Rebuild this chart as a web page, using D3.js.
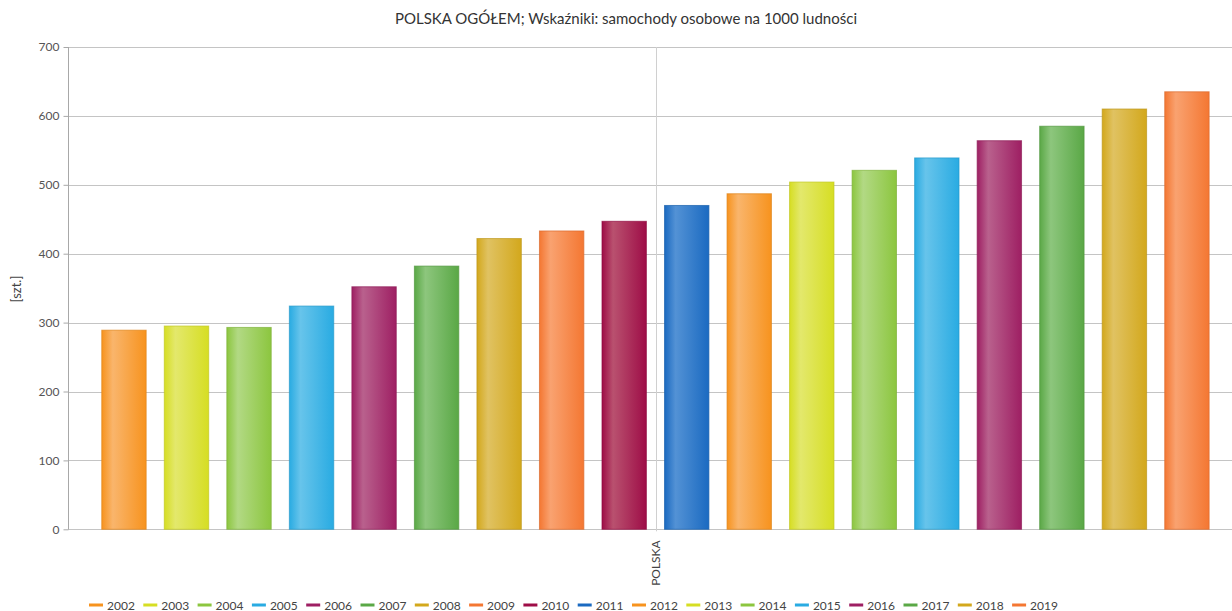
<!DOCTYPE html>
<html>
<head>
<meta charset="utf-8">
<script src="https://cdn.jsdelivr.net/npm/d3@7"></script>
<style>
  body { margin: 0; background: #fff; }
  text { font-family: Lato, "Open Sans", sans-serif; }
</style>
</head>
<body>
<script>
var years = ["2002","2003","2004","2005","2006","2007","2008","2009","2010",
             "2011","2012","2013","2014","2015","2016","2017","2018","2019"];
var values = [289, 295, 293, 324, 352, 382, 422, 433, 447,
              470, 487, 504, 521, 539, 564, 585, 610, 635];
var categories = ["POLSKA"];
var yTicks = [0, 100, 200, 300, 400, 500, 600, 700];
// base / light pairs, cycling every 10 series
var palette = [
  ["#f7931e", "#f9b56c"],
  ["#d6de23", "#e3e86c"],
  ["#8cc63f", "#b2d984"],
  ["#29abe2", "#67c4eb"],
  ["#9e1f63", "#b9618d"],
  ["#5aa846", "#8dc67d"],
  ["#d3a81c", "#e0c262"],
  ["#f47732", "#f9a270"],
  ["#9e0d47", "#b9516f"],
  ["#1b6ac1", "#5392d5"]
];

var w = 1232, h = 611;
var plotLeft = 68, plotTop = 47, plotBottom = 529.3;

var svg = d3.select("body").append("svg")
  .attr("width", w)
  .attr("height", h);

var defs = svg.append("defs");
palette.forEach(function(c, i){
  var g = defs.append("linearGradient")
    .attr("id", "grad" + i)
    .attr("x1", "0%").attr("x2", "100%")
    .attr("y1", "0%").attr("y2", "0%");
  g.append("stop").attr("offset", "0%").attr("stop-color", c[0]);
  g.append("stop").attr("offset", "25%").attr("stop-color", c[1]);
  g.append("stop").attr("offset", "100%").attr("stop-color", c[0]);
});

var y = d3.scaleLinear().domain([0, 700]).range([plotBottom, plotTop]);

var x = d3.scaleBand().domain(categories).range([plotLeft, 1243]);
var xc = x("POLSKA") + x.bandwidth() / 2;

var xi = d3.scaleBand().domain(years)
  .range([92.7, 1218.2])
  .paddingInner(0.274)
  .paddingOuter(0.137);

// grid
svg.append("g").selectAll("line")
  .data(yTicks)
  .enter().append("line")
  .attr("x1", plotLeft).attr("x2", w)
  .attr("y1", function(d){ return Math.round(y(d)) + 0.5; })
  .attr("y2", function(d){ return Math.round(y(d)) + 0.5; })
  .style("stroke", "#c4c4c4")
  .style("stroke-width", 1);

// category divider
svg.append("line")
  .attr("x1", Math.round(xc) + 0.5).attr("x2", Math.round(xc) + 0.5)
  .attr("y1", plotTop).attr("y2", plotBottom + 2)
  .style("stroke", "#d0d0d0");

// y axis
var yAxis = d3.axisLeft(y).tickValues(yTicks).tickSize(5).tickPadding(4);
var ya = svg.append("g")
  .attr("transform", "translate(" + (plotLeft + 0.5) + ",0)")
  .call(yAxis);
ya.select(".domain").style("stroke", "#a8a8a8").attr("d", "M0," + plotTop + "V" + plotBottom);
ya.selectAll(".tick line").style("stroke", "#a8a8a8");
ya.selectAll(".tick text")
  .style("font-family", "Lato, sans-serif")
  .style("font-size", "12px")
  .style("fill", "#555");

// bars
svg.append("g").selectAll("rect")
  .data(values)
  .enter().append("rect")
  .attr("x", function(d, i){ return xi(years[i]) + 0.5; })
  .attr("y", function(d){ return y(d); })
  .attr("width", xi.bandwidth() - 1)
  .attr("height", function(d){ return plotBottom - y(d); })
  .style("fill", function(d, i){ return "url(#grad" + (i % 10) + ")"; })
  .style("stroke", function(d, i){ return d3.color(palette[i % 10][0]).darker(0.3); })
  .style("stroke-opacity", 0.7)
  .style("stroke-width", 1);

// title
svg.append("text")
  .attr("x", 626).attr("y", 24)
  .attr("text-anchor", "middle")
  .style("font-size", "15px")
  .style("fill", "#333")
  .text("POLSKA OGÓŁEM; Wskaźniki: samochody osobowe na 1000 ludności");

// y label
svg.append("text")
  .attr("transform", "translate(21," + 289 + ") rotate(-90)")
  .attr("text-anchor", "middle")
  .style("font-size", "13px")
  .style("fill", "#444")
  .text("[szt.]");

// category label
svg.append("text")
  .attr("transform", "translate(" + (xc + 4) + "," + (plotBottom + 11) + ") rotate(-90)")
  .attr("text-anchor", "end")
  .style("font-size", "12px")
  .style("fill", "#444")
  .text(categories[0]);

// legend
var leg = svg.append("g").selectAll("g")
  .data(years)
  .enter().append("g")
  .attr("transform", function(d, i){ return "translate(" + (89 + i * 54.3) + ",605)"; });
leg.append("line")
  .attr("x1", 0).attr("x2", 14)
  .style("stroke", function(d, i){ return palette[i % 10][0]; })
  .style("stroke-width", 3);
leg.append("text")
  .attr("x", 18).attr("y", 4.5)
  .style("font-size", "12px")
  .style("fill", "#444")
  .text(function(d){ return d; });
</script>
</body>
</html>
